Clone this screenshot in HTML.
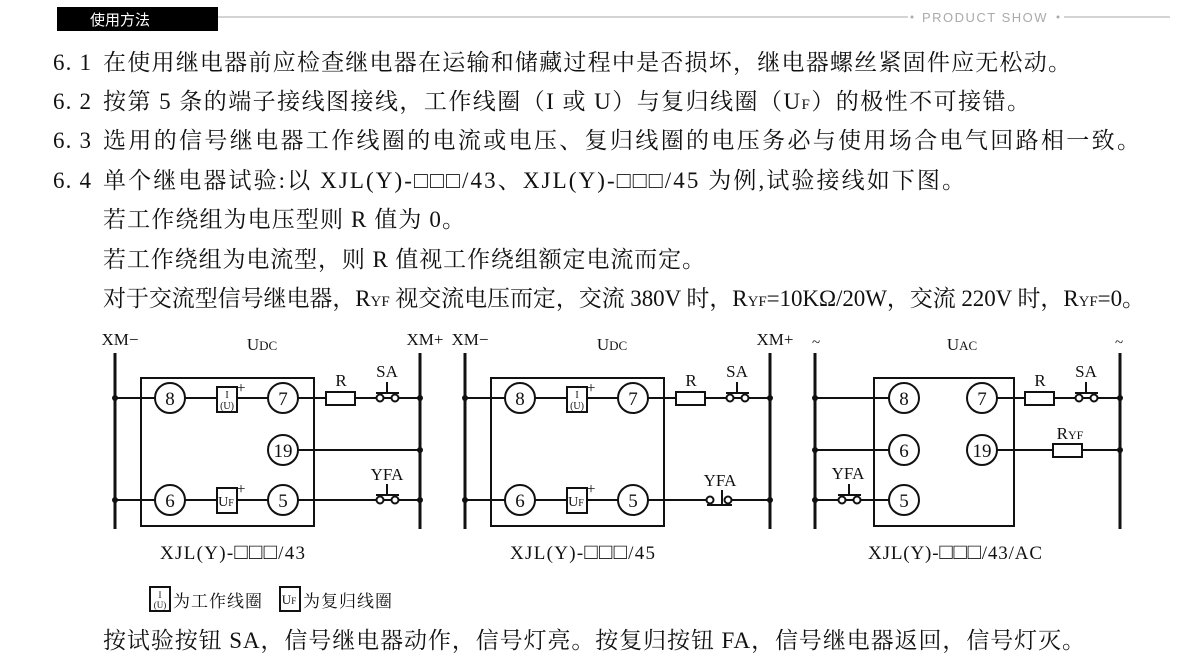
<!DOCTYPE html>
<html><head><meta charset="utf-8"><style>
html,body{margin:0;padding:0;background:#fff;width:1200px;height:663px;overflow:hidden}
svg{display:block}
.t{font-family:"Liberation Serif","Noto Serif CJK SC",serif;font-size:23px;fill:#111}
.d{font-family:"Liberation Serif","Noto Serif CJK SC",serif;fill:#111}
.s{font-family:"Liberation Sans","Noto Sans CJK SC",sans-serif}
</style></head><body>
<svg width="1200" height="663" viewBox="0 0 1200 663" xmlns="http://www.w3.org/2000/svg">
<rect x="57" y="7" width="161" height="24" fill="#000"/>
<text x="90" y="25" class="s" font-size="15" fill="#fff">使用方法</text>
<line x1="218" y1="17" x2="908" y2="17" stroke="#aaa" stroke-width="1"/>
<circle cx="912" cy="17" r="1.5" fill="#aaa"/>
<text x="922" y="22" class="s" font-size="13" fill="#aaa" letter-spacing="1.5" textLength="126">PRODUCT SHOW</text>
<circle cx="1058" cy="17" r="1.5" fill="#aaa"/>
<line x1="1064" y1="17" x2="1170" y2="17" stroke="#aaa" stroke-width="1"/>

<g class="t">
<text x="53" y="70" textLength="38">6. 1</text><text x="103" y="70" textLength="968">在使用继电器前应检查继电器在运输和储藏过程中是否损坏，继电器螺丝紧固件应无松动。</text>
<text x="53" y="109" textLength="38">6. 2</text><text x="103" y="109" textLength="927">按第 5 条的端子接线图接线，工作线圈（I 或 U）与复归线圈（U<tspan font-size="15">F</tspan>）的极性不可接错。</text>
<text x="53" y="148" textLength="38">6. 3</text><text x="103" y="148" textLength="1037">选用的信号继电器工作线圈的电流或电压、复归线圈的电压务必与使用场合电气回路相一致。</text>
<text x="53" y="188" textLength="38">6. 4</text><text x="103" y="188" textLength="862">单个继电器试验:以 XJL(Y)-□□□/43、XJL(Y)-□□□/45 为例,试验接线如下图。</text>
<text x="103" y="227" textLength="362">若工作绕组为电压型则 R 值为 0。</text>
<text x="103" y="267" textLength="602">若工作绕组为电流型，则 R 值视工作绕组额定电流而定。</text>
<text x="103" y="306" textLength="1042">对于交流型信号继电器，R<tspan font-size="15">YF</tspan> 视交流电压而定，交流 380V 时，R<tspan font-size="15">YF</tspan>=10KΩ/20W，交流 220V 时，R<tspan font-size="15">YF</tspan>=0。</text>
<text x="103" y="648" textLength="982">按试验按钮 SA，信号继电器动作，信号灯亮。按复归按钮 FA，信号继电器返回，信号灯灭。</text>
</g>

<defs>
<g id="sw">
<line x1="-14" y1="0" x2="-10" y2="0" stroke="#111" stroke-width="2"/>
<circle cx="-6" cy="0" r="3.5" fill="#fff" stroke="#111" stroke-width="2"/>
<circle cx="9" cy="0" r="3.5" fill="#fff" stroke="#111" stroke-width="2"/>
<line x1="-10" y1="-5" x2="13" y2="-5" stroke="#111" stroke-width="2"/>
<line x1="1" y1="-5" x2="1" y2="-16" stroke="#111" stroke-width="2"/>
</g>
<g id="coilI">
<rect x="-10" y="-12" width="20" height="25" fill="#fff" stroke="#111" stroke-width="2"/>
<text x="0" y="-1" font-size="10" text-anchor="middle" class="d">I</text>
<text x="0" y="10" font-size="10" text-anchor="middle" class="d">(U)</text>
<text x="14" y="-6" font-size="16" text-anchor="middle" class="d">+</text>
</g>
<g id="coilF">
<rect x="-10" y="-12" width="20" height="25" fill="#fff" stroke="#111" stroke-width="2"/>
<text x="-1" y="6" font-size="14" text-anchor="middle" class="d">U<tspan font-size="10">F</tspan></text>
<text x="14" y="-6" font-size="16" text-anchor="middle" class="d">+</text>
</g>
</defs>

<!-- Diagram 1 -->
<g stroke="#111" fill="none" stroke-width="2">
<line x1="115" y1="353" x2="115" y2="529" stroke-width="3"/>
<line x1="420" y1="353" x2="420" y2="529" stroke-width="3"/>
<rect x="141" y="378" width="173" height="148"/>
<line x1="115" y1="398" x2="326" y2="398"/><line x1="355" y1="398" x2="420" y2="398"/>
<line x1="298" y1="450" x2="420" y2="450"/>
<line x1="115" y1="500" x2="420" y2="500"/>
<rect x="326" y="392" width="29" height="13" fill="#fff"/>
</g>
<g fill="#111"><circle cx="115" cy="398" r="3"/><circle cx="115" cy="500" r="3"/><circle cx="420" cy="398" r="3"/><circle cx="420" cy="450" r="3"/><circle cx="420" cy="500" r="3"/></g>
<use href="#coilI" x="227" y="399"/><use href="#coilF" x="227" y="500"/>
<use href="#sw" x="386" y="398"/><use href="#sw" x="386" y="500"/>
<g class="d" font-size="19" text-anchor="middle">
<g stroke="#111" stroke-width="2" fill="#fff"><circle cx="170" cy="398" r="15"/><circle cx="283" cy="398" r="15"/><circle cx="283" cy="450" r="15"/><circle cx="170" cy="500" r="15"/><circle cx="283" cy="500" r="15"/></g>
<text x="170" y="405">8</text><text x="283" y="405">7</text><text x="283" y="457">19</text><text x="170" y="507">6</text><text x="283" y="507">5</text>
<text x="120" y="345" font-size="17">XM−</text><text x="262" y="350" font-size="17">U<tspan font-size="13">DC</tspan></text><text x="425" y="345" font-size="17">XM+</text>
<text x="341" y="386" font-size="17">R</text><text x="387" y="377" font-size="17">SA</text><text x="387" y="480" font-size="17">YFA</text>
<text x="160" y="559" font-size="19" text-anchor="start" textLength="145">XJL(Y)-<tspan font-family="Liberation Sans,sans-serif" font-weight="bold" font-size="22">□□□</tspan>/43</text>
</g>

<!-- Diagram 2 -->
<g stroke="#111" fill="none" stroke-width="2">
<line x1="465" y1="353" x2="465" y2="529" stroke-width="3"/>
<line x1="770" y1="353" x2="770" y2="529" stroke-width="3"/>
<rect x="491" y="378" width="173" height="148"/>
<line x1="465" y1="398" x2="676" y2="398"/><line x1="705" y1="398" x2="770" y2="398"/>
<line x1="465" y1="500" x2="706" y2="500"/><line x1="732" y1="500" x2="770" y2="500"/>
<rect x="676" y="392" width="29" height="13" fill="#fff"/>
<circle cx="710" cy="500" r="3.5" fill="#fff"/><circle cx="728" cy="500" r="3.5" fill="#fff"/>
<line x1="707" y1="505" x2="732" y2="505"/><line x1="722" y1="490" x2="722" y2="505"/>
</g>
<g fill="#111"><circle cx="465" cy="398" r="3"/><circle cx="465" cy="500" r="3"/><circle cx="770" cy="398" r="3"/><circle cx="770" cy="500" r="3"/></g>
<use href="#coilI" x="577" y="399"/><use href="#coilF" x="577" y="500"/>
<use href="#sw" x="736" y="398"/>
<g class="d" font-size="19" text-anchor="middle">
<g stroke="#111" stroke-width="2" fill="#fff"><circle cx="520" cy="398" r="15"/><circle cx="633" cy="398" r="15"/><circle cx="520" cy="500" r="15"/><circle cx="633" cy="500" r="15"/></g>
<text x="520" y="405">8</text><text x="633" y="405">7</text><text x="520" y="507">6</text><text x="633" y="507">5</text>
<text x="470" y="345" font-size="17">XM−</text><text x="612" y="350" font-size="17">U<tspan font-size="13">DC</tspan></text><text x="775" y="345" font-size="17">XM+</text>
<text x="691" y="386" font-size="17">R</text><text x="737" y="377" font-size="17">SA</text><text x="720" y="486" font-size="17">YFA</text>
<text x="510" y="559" font-size="19" text-anchor="start" textLength="145">XJL(Y)-<tspan font-family="Liberation Sans,sans-serif" font-weight="bold" font-size="22">□□□</tspan>/45</text>
</g>

<!-- Diagram 3 -->
<g stroke="#111" fill="none" stroke-width="2">
<line x1="815" y1="353" x2="815" y2="529" stroke-width="3"/>
<line x1="1120" y1="353" x2="1120" y2="529" stroke-width="3"/>
<rect x="874" y="378" width="140" height="148"/>
<line x1="815" y1="398" x2="889" y2="398"/>
<line x1="997" y1="398" x2="1025" y2="398"/><line x1="1054" y1="398" x2="1120" y2="398"/>
<line x1="815" y1="450" x2="889" y2="450"/>
<line x1="997" y1="450" x2="1053" y2="450"/><line x1="1082" y1="450" x2="1120" y2="450"/>
<line x1="836" y1="500" x2="889" y2="500"/>
<rect x="1025" y="392" width="29" height="13" fill="#fff"/>
<rect x="1053" y="444" width="29" height="13" fill="#fff"/>
</g>
<g fill="#111"><circle cx="815" cy="398" r="3"/><circle cx="815" cy="450" r="3"/><circle cx="815" cy="500" r="3"/><circle cx="1120" cy="398" r="3"/><circle cx="1120" cy="450" r="3"/></g>
<line x1="815" y1="500" x2="836" y2="500" stroke="#111" stroke-width="2"/>
<use href="#sw" x="848" y="500"/>
<use href="#sw" x="1085" y="398"/>
<g class="d" font-size="19" text-anchor="middle">
<g stroke="#111" stroke-width="2" fill="#fff"><circle cx="904" cy="398" r="15"/><circle cx="982" cy="398" r="15"/><circle cx="904" cy="450" r="15"/><circle cx="982" cy="450" r="15"/><circle cx="904" cy="500" r="15"/></g>
<text x="904" y="405">8</text><text x="982" y="405">7</text><text x="904" y="457">6</text><text x="982" y="457">19</text><text x="904" y="507">5</text>
<text x="816" y="347" font-size="15">~</text><text x="962" y="350" font-size="17">U<tspan font-size="13">AC</tspan></text><text x="1119" y="347" font-size="15">~</text>
<text x="1040" y="386" font-size="17">R</text><text x="1086" y="377" font-size="17">SA</text>
<text x="1070" y="439" font-size="17">R<tspan font-size="12">YF</tspan></text><text x="848" y="479" font-size="17">YFA</text>
<text x="868" y="559" font-size="19" text-anchor="start" textLength="174">XJL(Y)-<tspan font-family="Liberation Sans,sans-serif" font-weight="bold" font-size="22">□□□</tspan>/43/AC</text>
</g>

<!-- legend -->
<rect x="150" y="587" width="20" height="24" fill="#fff" stroke="#111" stroke-width="2"/>
<text x="160" y="598" font-size="9" text-anchor="middle" class="d">I</text>
<text x="160" y="608" font-size="9" text-anchor="middle" class="d">(U)</text>
<text x="173" y="607" class="d" font-size="17" textLength="89">为工作线圈</text>
<rect x="280" y="587" width="20" height="24" fill="#fff" stroke="#111" stroke-width="2"/>
<text x="289" y="604" font-size="13" text-anchor="middle" class="d">U<tspan font-size="9">F</tspan></text>
<text x="303" y="607" class="d" font-size="17" textLength="89">为复归线圈</text>
</svg>
</body></html>
